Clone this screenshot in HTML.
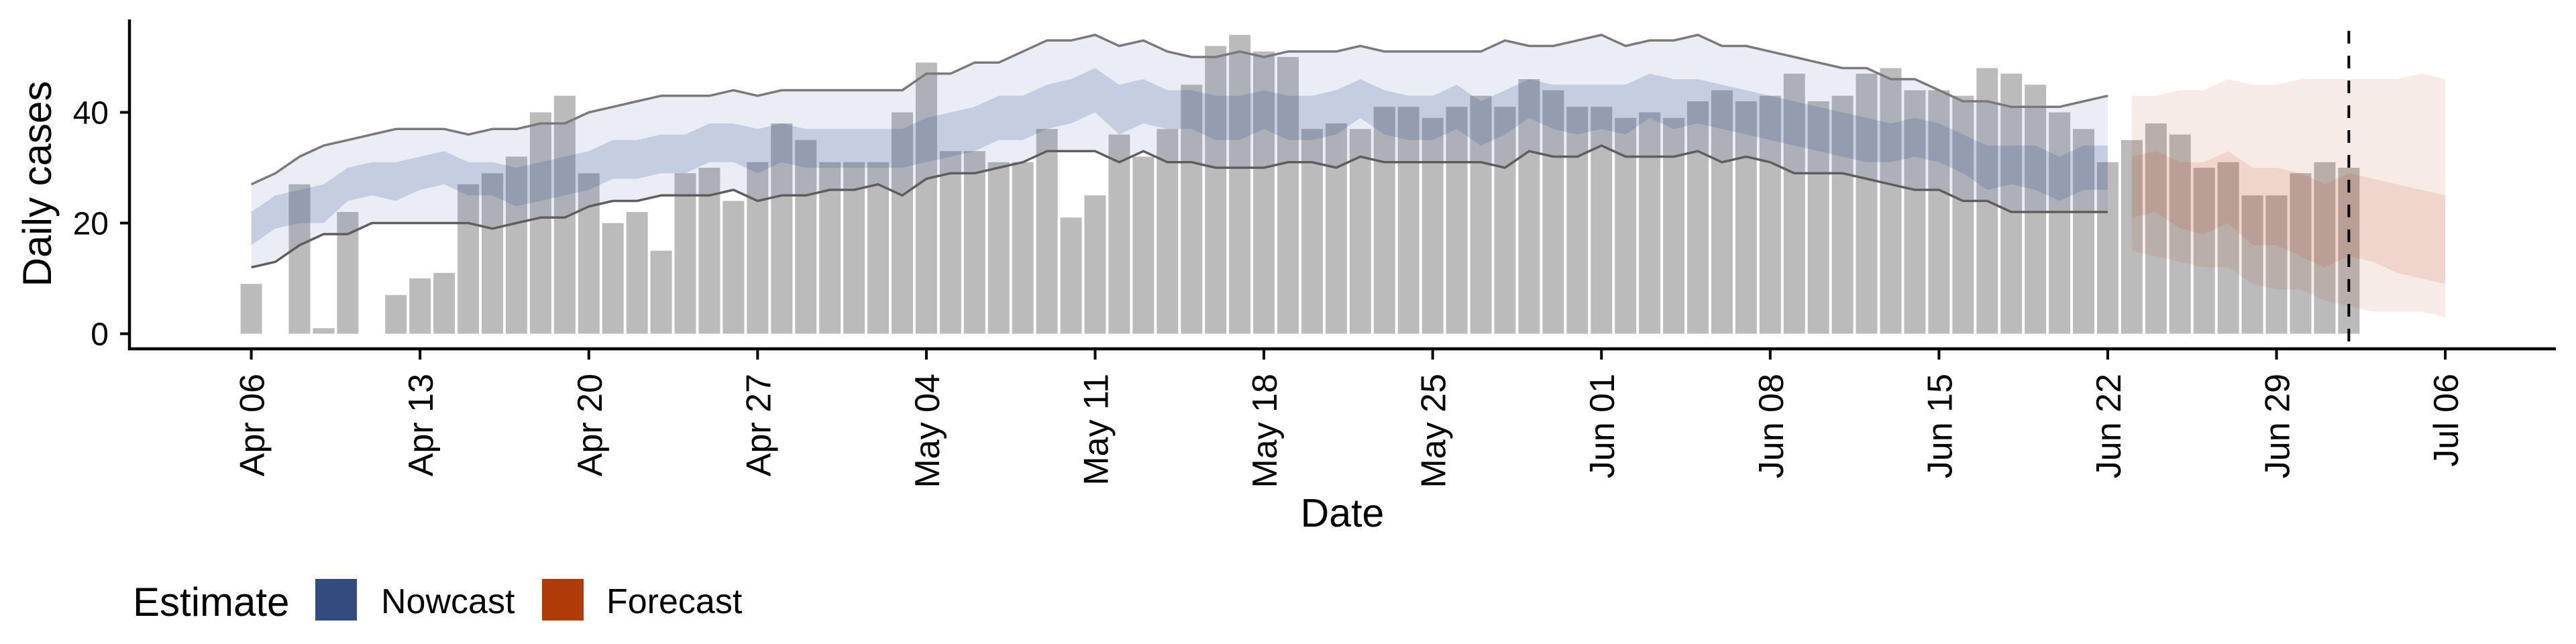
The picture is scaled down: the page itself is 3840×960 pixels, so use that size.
<!DOCTYPE html>
<html><head><meta charset="utf-8"><style>
html,body{margin:0;padding:0;background:#fff}
svg{display:block;font-family:"Liberation Sans",Arial,sans-serif}
</style></head><body>
<svg id="chart" width="3840" height="960" viewBox="0 0 3840 960" xmlns="http://www.w3.org/2000/svg">
<g id="bars"></g>
<g id="bands"></g>
<g id="lines"></g>
<g id="axes"></g>
<g>
<text x="198" y="918" font-size="60" fill="#000">Estimate</text>
<rect x="470" y="863" width="62" height="62" fill="#344b80"/>
<text x="568" y="914" font-size="52" fill="#000">Nowcast</text>
<rect x="808" y="863" width="62" height="62" fill="#b03a08"/>
<text x="904" y="914" font-size="52" fill="#000">Forecast</text>
</g>
</svg>
<script>
// Daily cases, Apr 06 (index 0) .. Jul 02 (index 87)
const cases = [9,0,27,1,22,0,7,10,11,27,29,32,40,43,29,20,22,15,29,30,24,31,38,35,31,31,31,40,49,33,33,31,31,37,21,25,36,32,37,45,52,54,51,50,37,38,37,41,41,39,41,43,41,46,44,41,41,39,40,39,42,44,42,43,47,42,43,47,48,44,44,43,48,47,45,40,37,31,35,38,36,30,31,25,25,29,31,30];
// Nowcast (index 0..77)
const upperLine = [27,29,32,34,35,36,37,37,37,36,37,37,38,38,40,41,42,43,43,43,44,43,44,44,44,44,44,44,47,47,49,49,51,53,53,54,52,53,51,50,50,51,50,51,51,51,52,51,51,51,51,51,53,52,52,53,54,52,53,53,54,52,52,51,50,49,48,48,46,46,44,42,42,41,41,41,42,43];
const lowerLine = [12,13,16,18,18,20,20,20,20,20,19,20,21,21,23,24,24,25,25,25,26,24,25,25,26,26,27,25,28,29,29,30,31,33,33,33,31,33,31,31,30,30,30,31,31,30,32,31,31,31,31,31,30,33,32,32,34,32,32,32,33,31,32,31,29,29,29,28,27,26,26,24,24,22,22,22,22,22];
const innerUpper = [22,25,26,27,30,31,31,32,33,31,31,30,31,32,33,35,35,36,36,38,38,37,38,37,37,37,37,37,39,40,41,43,43,45,46,48,45,46,44,44,43,43,44,43,43,44,46,44,43,43,45,42,44,46,45,45,45,45,47,46,46,45,44,43,42,41,40,39,38,39,38,36,34,34,34,32,34,34];
const innerLower = [16,19,20,20,24,25,24,26,27,25,25,23,24,25,26,28,28,29,29,31,31,29,31,30,30,30,30,30,31,32,33,35,35,37,38,40,36,38,37,37,35,35,37,35,35,36,39,36,35,35,37,34,36,39,37,36,37,36,39,37,38,37,36,35,34,33,32,31,31,32,31,29,26,27,26,24,26,26];
// Forecast (index 78..91)
const fcStart = 78;
const fcOuterUpper = [43,43,44,44,46,45,45,46,46,46,46,46,47,46];
const fcOuterLower = [15,14,13,12,12,9,8,8,6,5,4,4,4,3];
const fcInnerUpper = [32,33,31,31,33,30,30,29,27,29,28,27,26,25];
const fcInnerLower = [21,22,19,18,20,16,16,14,12,14,13,11,10,9];
const xTickLabels = ["Apr 06","Apr 13","Apr 20","Apr 27","May 04","May 11","May 18","May 25","Jun 01","Jun 08","Jun 15","Jun 22","Jun 29","Jul 06"];
const yTicks = [0,20,40];
const cutoffIndex = 87;

const NS = "http://www.w3.org/2000/svg";
const X0 = 374.6, DX = 35.94, Y0 = 497.5, DY = 8.25;
function xs(i){ return X0 + DX*i; }
function ys(v){ return Y0 - DY*v; }
function mk(tag, attrs, parent){
  const e = document.createElementNS(NS, tag);
  for (const k in attrs) e.setAttribute(k, attrs[k]);
  parent.appendChild(e); return e;
}
const gBars = document.getElementById('bars');
cases.forEach((v,i)=>{
  if (v<=0) return;
  const r = mk('rect',{x:xs(i)-16,y:ys(v),width:32,height:DY*v,fill:'#bbbbbb'},gBars);
  
  
});
function band(up, lo, off, fill, op, name){
  let d = '';
  up.forEach((v,k)=>{ d += (k?'L':'M') + xs(k+off).toFixed(1)+','+ys(v).toFixed(1); });
  for (let k=lo.length-1;k>=0;k--) d += 'L'+xs(k+off).toFixed(1)+','+ys(lo[k]).toFixed(1);
  const p = mk('path',{d:d+'Z',fill:fill,'fill-opacity':op},document.getElementById('bands'));
  
  
}
band(upperLine, lowerLine, 0, '#34518f', 0.1, 'nowcast-outer-band');
band(innerUpper, innerLower, 0, '#34518f', 0.2, 'nowcast-inner-band');
band(fcOuterUpper, fcOuterLower, fcStart, '#b33a0a', 0.1, 'forecast-outer-band');
band(fcInnerUpper, fcInnerLower, fcStart, '#b33a0a', 0.12, 'forecast-inner-band');
function line(arr, color, name){
  const pts = arr.map((v,k)=>xs(k).toFixed(1)+','+ys(v).toFixed(1)).join(' ');
  const l = mk('polyline',{points:pts,fill:'none',stroke:color,'stroke-width':3.5,'stroke-linejoin':'round'},document.getElementById('lines'));
  
  
}
line(upperLine, '#7a7a7a', 'upper-interval-line');
line(lowerLine, '#5e5e5e', 'lower-interval-line');

const gA = document.getElementById('axes');
const cut = mk('line',{x1:xs(cutoffIndex),x2:xs(cutoffIndex),y1:46,y2:520,stroke:'#000','stroke-width':4,'stroke-dasharray':'19 18'},gA);


const ya = mk('line',{x1:193,x2:193,y1:29,y2:522,stroke:'#000','stroke-width':4.5},gA);


const xa = mk('line',{x1:191,x2:3810,y1:520,y2:520,stroke:'#000','stroke-width':4.5},gA);


yTicks.forEach(v=>{
  const t = mk('line',{x1:179,x2:193,y1:ys(v),y2:ys(v),stroke:'#000','stroke-width':4},gA);
  
  
  const l = mk('text',{x:162,y:ys(v)+17,'text-anchor':'end','font-size':48,fill:'#000'},gA);
  l.textContent = v;
  
  
});
xTickLabels.forEach((s,k)=>{
  const x = xs(k*7);
  const t = mk('line',{x1:x,x2:x,y1:520,y2:536,stroke:'#000','stroke-width':4},gA);
  
  
  const l = mk('text',{transform:'translate('+(x+19)+',557) rotate(-90)','text-anchor':'end','font-size':52,fill:'#000'},gA);
  l.textContent = s;
  
  
});
const xt = mk('text',{x:2001,y:785,'text-anchor':'middle','font-size':59,fill:'#000'},gA);
xt.textContent = 'Date';


const yt = mk('text',{transform:'translate(76,274) rotate(-90)','text-anchor':'middle','font-size':60,fill:'#000'},gA);
yt.textContent = 'Daily cases';


</script>
</body></html>
